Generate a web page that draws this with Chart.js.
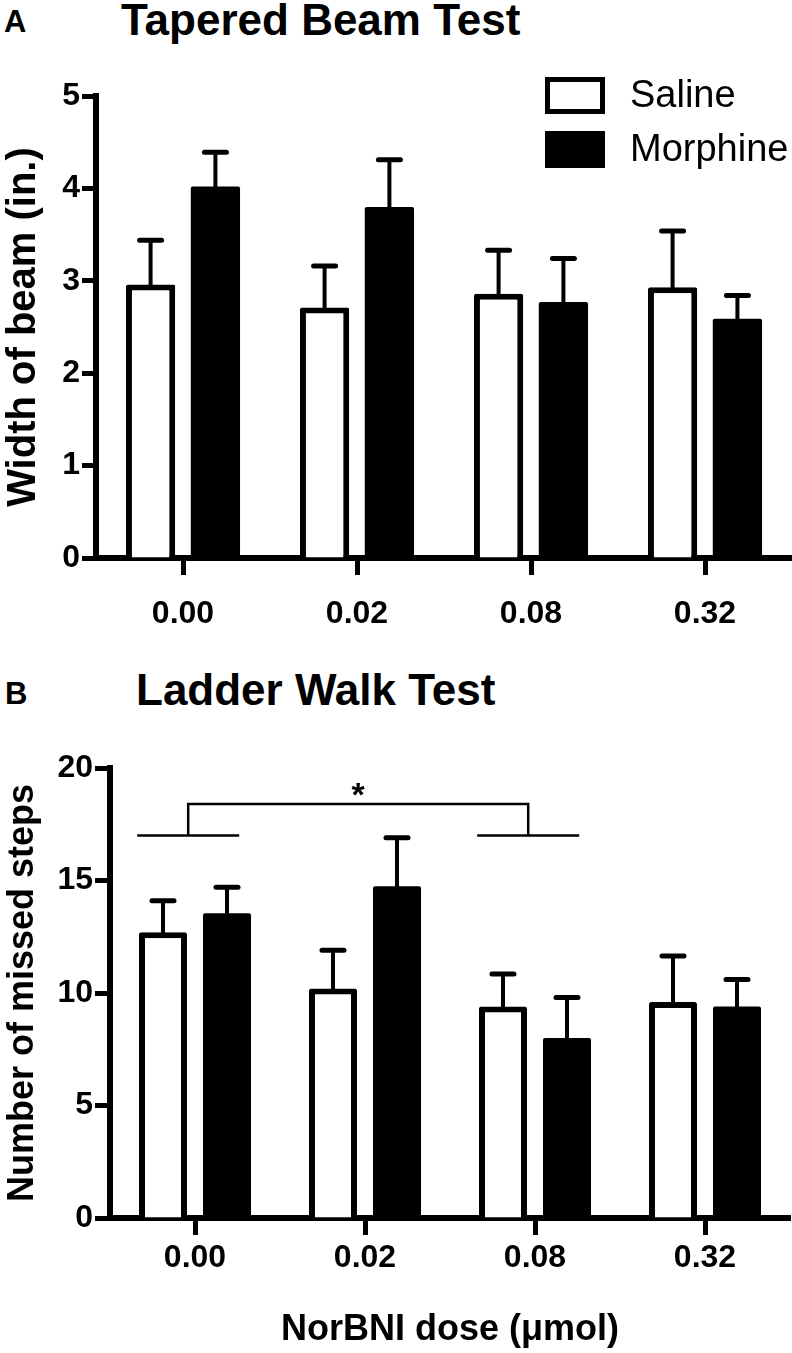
<!DOCTYPE html>
<html>
<head>
<meta charset="utf-8">
<script src="https://cdn.jsdelivr.net/npm/chart.js@4.4.1/dist/chart.umd.min.js"></script>
<style>
html,body{margin:0;padding:0;background:#fff;}
body{width:792px;height:1353px;position:relative;overflow:hidden;font-family:"Liberation Sans",Arial,Helvetica,sans-serif;color:#000;}
.lbl{position:absolute;font-weight:bold;line-height:1;white-space:nowrap;}
#wrapA{position:absolute;left:0;top:0;width:792px;height:660px;}
#wrapB{position:absolute;left:0;top:650px;width:792px;height:703px;}
#legendA{position:absolute;left:545px;top:77px;}
.li{position:relative;height:54px;width:250px;}
.li .box{position:absolute;left:0;top:0;width:60px;height:37px;box-sizing:border-box;}
.li .txt{position:absolute;left:85px;top:-1px;font-size:38px;line-height:37px;font-weight:normal;white-space:nowrap;}
</style>
</head>
<body>
<div class="lbl" style="left:4px;top:6px;font-size:31px;">A</div>
<div class="lbl" style="left:121px;top:-2px;font-size:44px;">Tapered Beam Test</div>
<div class="lbl" style="left:5px;top:678px;font-size:31px;">B</div>
<div class="lbl" style="left:136px;top:668px;font-size:44px;">Ladder Walk Test</div>

<div id="wrapA"><canvas id="chartA"></canvas></div>
<div id="wrapB"><canvas id="chartB"></canvas></div>
<div id="legendA"></div>

<script>
// ---------- data ----------
const doses = ['0.00', '0.02', '0.08', '0.32'];
const seriesNames = ['Saline', 'Morphine'];

const beamSaline      = [2.96, 2.71, 2.86, 2.93];
const beamSalineSem   = [0.48, 0.45, 0.47, 0.61];
const beamMorphine    = [4.02, 3.80, 2.77, 2.59];
const beamMorphineSem = [0.37, 0.51, 0.47, 0.25];
const beamTicks = [0, 1, 2, 3, 4, 5];

const ladderSaline      = [12.7, 10.2, 9.4, 9.6];
const ladderSalineSem   = [1.4, 1.7, 1.45, 2.05];
const ladderMorphine    = [13.55, 14.75, 8.0, 9.4];
const ladderMorphineSem = [1.15, 2.15, 1.8, 1.2];
const ladderTicks = [0, 5, 10, 15, 20];

// significance bracket (category indices and y levels)
const sigGroups = [0, 2];
const sigLevels = [17, 18.4];
const sigLabel = '*';

// ---------- styling ----------
const FONT = '"Liberation Sans", Arial, Helvetica, sans-serif';
Chart.defaults.font.family = FONT;
Chart.defaults.color = '#000';

const errorBars = {
  id: 'errorBars',
  afterDatasetsDraw(chart) {
    const ctx = chart.ctx, ys = chart.scales.y;
    chart.data.datasets.forEach((ds, i) => {
      const meta = chart.getDatasetMeta(i);
      meta.data.forEach((bar, j) => {
        const top = ys.getPixelForValue(ds.data[j] + ds.sem[j]);
        ctx.save();
        ctx.strokeStyle = '#000';
        ctx.lineWidth = 4;
        ctx.lineCap = 'butt';
        ctx.beginPath();
        ctx.moveTo(bar.x, bar.y + 2);
        ctx.lineTo(bar.x, top);
        ctx.stroke();
        ctx.lineWidth = 5;
        ctx.lineCap = 'round';
        ctx.beginPath();
        ctx.moveTo(bar.x - 11, top);
        ctx.lineTo(bar.x + 11, top);
        ctx.stroke();
        ctx.restore();
      });
    });
  }
};

const sigBracket = {
  id: 'sigBracket',
  afterDatasetsDraw(chart, args, opts) {
    if (!opts || !opts.groups) return;
    const ctx = chart.ctx, xs = chart.scales.x, ys = chart.scales.y;
    const cw = xs.getPixelForValue(1) - xs.getPixelForValue(0);
    const yLow = ys.getPixelForValue(opts.levels[0]);
    const yHigh = ys.getPixelForValue(opts.levels[1]);
    const centers = opts.groups.map(g => xs.getPixelForValue(g) - 0.04 * cw);
    ctx.save();
    ctx.strokeStyle = '#000';
    ctx.lineWidth = 2.5;
    ctx.lineCap = 'butt';
    centers.forEach(c => {
      ctx.beginPath();
      ctx.moveTo(c - 0.3 * cw, yLow);
      ctx.lineTo(c + 0.3 * cw, yLow);
      ctx.stroke();
    });
    ctx.beginPath();
    ctx.moveTo(centers[0], yLow);
    ctx.lineTo(centers[0], yHigh);
    ctx.lineTo(centers[1], yHigh);
    ctx.lineTo(centers[1], yLow);
    ctx.stroke();
    ctx.fillStyle = '#000';
    ctx.font = 'bold 34px ' + FONT;
    ctx.textAlign = 'center';
    ctx.textBaseline = 'alphabetic';
    ctx.fillText(opts.label, (centers[0] + centers[1]) / 2, yHigh + 2);
    ctx.restore();
  }
};

const htmlLegend = {
  id: 'htmlLegend',
  afterUpdate(chart, args, opts) {
    if (!opts || !opts.containerID) return;
    const el = document.getElementById(opts.containerID);
    el.innerHTML = '';
    const items = chart.options.plugins.legend.labels.generateLabels(chart);
    items.forEach(it => {
      const row = document.createElement('div');
      row.className = 'li';
      const box = document.createElement('div');
      box.className = 'box';
      box.style.background = it.fillStyle;
      box.style.border = '5px solid ' + it.strokeStyle;
      const txt = document.createElement('div');
      txt.className = 'txt';
      txt.textContent = it.text;
      row.appendChild(box);
      row.appendChild(txt);
      el.appendChild(row);
    });
  }
};

function makeDatasets(sal, salSem, mor, morSem, catPct, barPct) {
  return [
    {
      label: seriesNames[0], data: sal, sem: salSem,
      backgroundColor: '#fff', borderColor: '#000', borderWidth: 6,
      borderSkipped: 'start', borderRadius: 2,
      categoryPercentage: catPct, barPercentage: barPct
    },
    {
      label: seriesNames[1], data: mor, sem: morSem,
      backgroundColor: '#000', borderColor: '#000', borderWidth: 0,
      borderRadius: 2,
      categoryPercentage: catPct, barPercentage: barPct
    }
  ];
}

function makeOptions(cfg) {
  return {
    responsive: true,
    maintainAspectRatio: false,
    animation: false,
    layout: { padding: cfg.padding },
    plugins: {
      legend: { display: false },
      tooltip: { enabled: false },
      title: { display: false },
      htmlLegend: cfg.legend || {},
      sigBracket: cfg.sig || {}
    },
    scales: {
      x: {
        type: 'category',
        offset: true,
        grid: {
          display: true, offset: false, drawOnChartArea: false,
          drawTicks: true, tickLength: 17, tickWidth: 5, tickColor: '#000'
        },
        border: { display: true, width: 6, color: '#000' },
        ticks: {
          color: '#000', padding: cfg.xPad, maxRotation: 0, autoSkip: false,
          font: { family: FONT, size: 32, weight: 'bold', lineHeight: 1 }
        },
        title: cfg.xTitle ? {
          display: true, text: cfg.xTitle, color: '#000',
          font: { family: FONT, size: 36, weight: 'bold', lineHeight: 1 },
          padding: cfg.xTitlePad
        } : { display: false }
      },
      y: {
        min: cfg.ticks[0],
        max: cfg.ticks[cfg.ticks.length - 1],
        afterBuildTicks(scale) { scale.ticks = cfg.ticks.map(v => ({ value: v })); },
        afterFit(scale) { scale.width = cfg.yWidth; },
        grid: {
          display: true, drawOnChartArea: false,
          drawTicks: true, tickLength: cfg.yTick, tickWidth: 5, tickColor: '#000'
        },
        border: { display: true, width: 6, color: '#000' },
        ticks: {
          color: '#000', padding: 2,
          font: { family: FONT, size: 32, weight: 'bold', lineHeight: 1 }
        },
        title: {
          display: true, text: cfg.yTitle, color: '#000',
          font: { family: FONT, size: cfg.yTitleSize, weight: 'bold', lineHeight: 1 },
          padding: { top: cfg.yTitlePad, bottom: 0 }
        }
      }
    }
  };
}

new Chart(document.getElementById('chartA'), {
  type: 'bar',
  data: {
    labels: doses,
    datasets: makeDatasets(beamSaline, beamSalineSem, beamMorphine, beamMorphineSem, 0.745, 0.76)
  },
  options: makeOptions({
    padding: { top: 96, right: 0, bottom: 7, left: 0 },
    ticks: beamTicks, yWidth: 96, yTick: 14, yTitle: 'Width of beam (in.)', yTitleSize: 40, yTitlePad: 4,
    xPad: 23, legend: { containerID: 'legendA' }
  }),
  plugins: [errorBars, htmlLegend]
});

new Chart(document.getElementById('chartB'), {
  type: 'bar',
  data: {
    labels: doses,
    datasets: makeDatasets(ladderSaline, ladderSalineSem, ladderMorphine, ladderMorphineSem, 0.753, 0.75)
  },
  options: makeOptions({
    padding: { top: 118, right: 2, bottom: 0, left: 0 },
    ticks: ladderTicks, yWidth: 110, yTick: 15, yTitle: 'Number of missed steps', yTitleSize: 36, yTitlePad: 5,
    xPad: 7, xTitle: 'NorBNI dose (\u03bcmol)', xTitlePad: { top: 31, bottom: 5 },
    sig: { groups: sigGroups, levels: sigLevels, label: sigLabel }
  }),
  plugins: [errorBars, sigBracket]
});
</script>
</body>
</html>
